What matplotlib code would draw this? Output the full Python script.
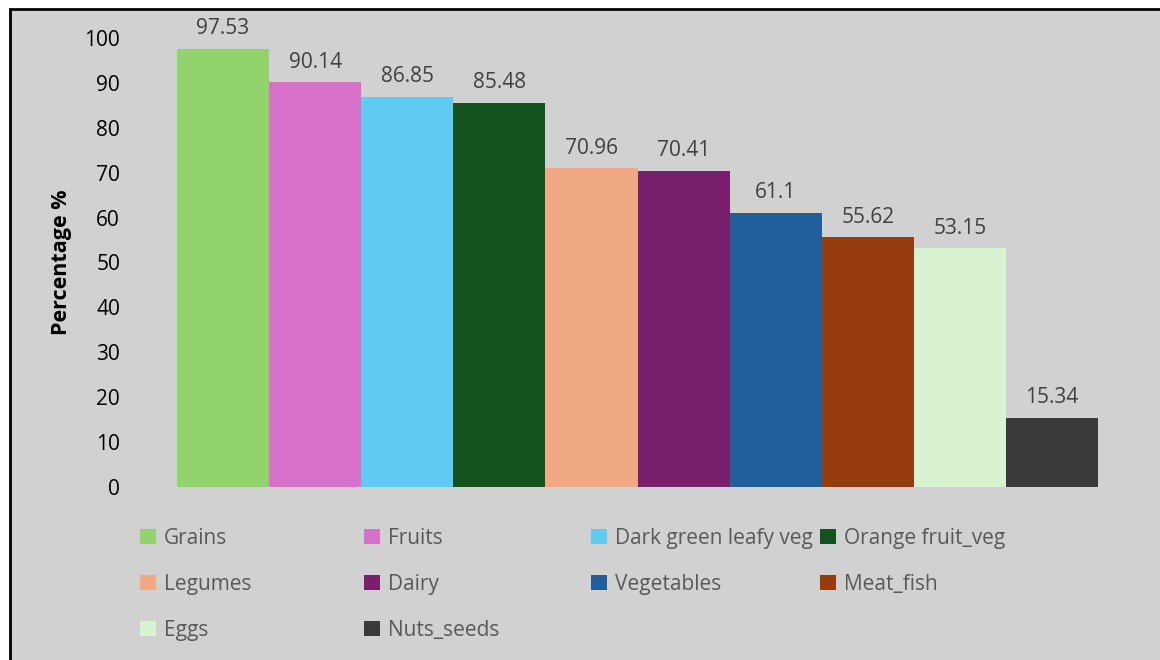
import matplotlib
matplotlib.use("Agg")
import matplotlib.pyplot as plt
from matplotlib.patches import Rectangle, Patch

categories = ["Grains", "Fruits", "Dark green leafy veg", "Orange fruit_veg",
              "Legumes", "Dairy", "Vegetables", "Meat_fish", "Eggs", "Nuts_seeds"]
values = [97.53, 90.14, 86.85, 85.48, 70.96, 70.41, 61.1, 55.62, 53.15, 15.34]
value_labels = ["97.53", "90.14", "86.85", "85.48", "70.96", "70.41", "61.1", "55.62", "53.15", "15.34"]
colors = ["#92d36e", "#d770c8", "#5fcbf3", "#145220", "#f1a983",
          "#7a1f6b", "#215f9a", "#973c0f", "#d9f2d0", "#3a3a3a"]
yticks = [0, 10, 20, 30, 40, 50, 60, 70, 80, 90, 100]

plt.rcParams['font.family'] = ['Open Sans', 'DejaVu Sans']

W, H = 1160, 660
fig = plt.figure(figsize=(W / 100, H / 100), dpi=100, facecolor="white")

# gray chart area with black border
bg = Rectangle((10 / W, -0.01), 1.02, (H - 9) / H + 0.01, transform=fig.transFigure,
               facecolor="#d1d1d1", edgecolor="black", linewidth=2, zorder=-10)
fig.patches.append(bg)

ax = fig.add_axes([177 / W, (H - 487) / H, (1098 - 177) / W, (487 - 38) / H])
ax.set_zorder(5)
ax.set_facecolor("none")
x = list(range(len(categories)))
ax.bar(x, values, width=1.0, color=colors, linewidth=0)
ax.set_xlim(-0.5, len(categories) - 0.5)
ax.set_ylim(0, 100)
ax.set_yticks(yticks)
ax.set_yticklabels([str(t) for t in yticks], fontsize=15, color="black")
ax.tick_params(axis="y", length=0, pad=41)
ax.set_xticks([])
for s in ax.spines.values():
    s.set_visible(False)

for xi, v, lab in zip(x, values, value_labels):
    ax.annotate(lab, (xi, v), xytext=(0, 7), textcoords="offset points",
                ha="center", va="bottom", fontsize=15, color="#404040")

ax.set_ylabel("Percentage %", fontsize=15.5, fontweight="bold", color="black")
ax.yaxis.set_label_coords(-(177 - 62) / (1098 - 177), 0.5)
ax.yaxis.label.set_verticalalignment("center")

# legend: 4 columns laid out like the original
col_x = [140, 364, 591, 820]
for j in range(4):
    idx = [i for i in range(j, len(categories), 4)]
    handles = [Patch(facecolor=colors[i], edgecolor="none") for i in idx]
    labels = [categories[i] for i in idx]
    leg = fig.legend(handles, labels, loc="upper left",
                     bbox_to_anchor=(col_x[j] / W, (H - 528) / H),
                     frameon=False, fontsize=15, labelcolor="#595959",
                     handlelength=0.75, handleheight=0.75, handletextpad=0.4,
                     labelspacing=1.19, borderaxespad=0, borderpad=0)

fig.savefig("out.png", dpi=100, facecolor=fig.get_facecolor())
